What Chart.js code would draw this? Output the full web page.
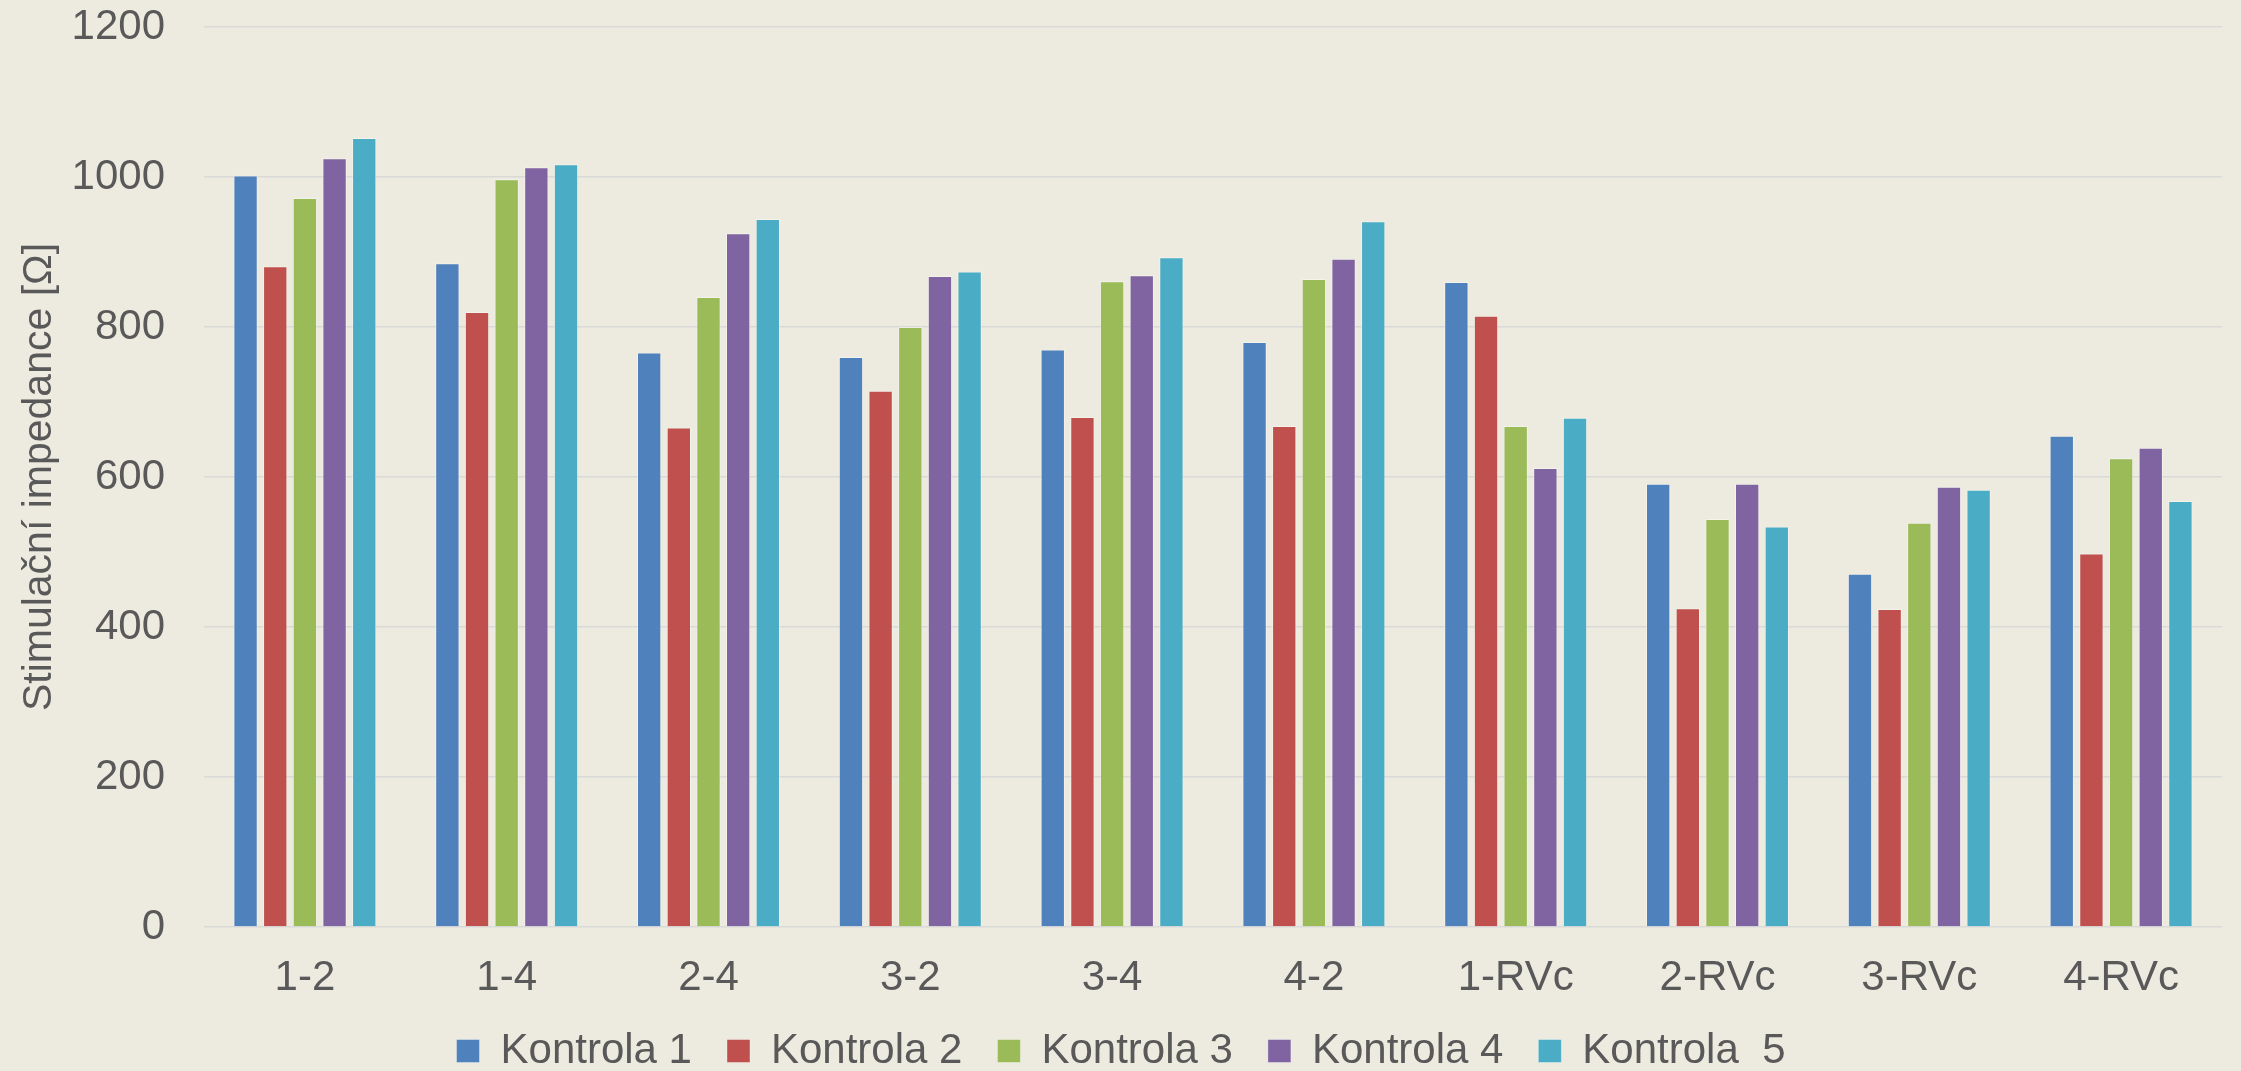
<!DOCTYPE html>
<html>
<head>
<meta charset="utf-8">
<title>Stimulační impedance</title>
<script src="https://cdn.jsdelivr.net/npm/chart.js@4/dist/chart.umd.min.js"></script>
<style>
  html, body { margin: 0; padding: 0; background: #EDEBE0; overflow: hidden; }
  #wrap { width: 2241px; height: 1071px; }
</style>
</head>
<body>
<div id="wrap"><canvas id="chart" width="2241" height="1071"></canvas></div>
<script>
// Electrode pairs (pacing vectors)
const categories = ['1-2', '1-4', '2-4', '3-2', '3-4', '4-2', '1-RVc', '2-RVc', '3-RVc', '4-RVc'];

// Stimulation impedance [Ω] per follow-up visit
const kontrola1 = [1002, 885, 766, 760, 770, 780, 860, 591, 471, 655];
const kontrola2 = [881, 820, 666, 715, 680, 668, 815, 425, 424, 498];
const kontrola3 = [972, 997, 840, 800, 861, 864, 668, 544, 539, 625];
const kontrola4 = [1025, 1013, 925, 868, 869, 891, 612, 591, 587, 639];
const kontrola5 = [1052, 1017, 944, 874, 893, 941, 679, 534, 583, 568];

const seriesNames = ['Kontrola 1', 'Kontrola 2', 'Kontrola 3', 'Kontrola 4', 'Kontrola  5'];
const seriesColors = ['#4F81BD', '#C0504D', '#9BBB59', '#8064A2', '#4BACC6'];
const seriesValues = [kontrola1, kontrola2, kontrola3, kontrola4, kontrola5];

const yTicks = [0, 200, 400, 600, 800, 1000, 1200];
const yTitle = 'Stimulační impedance [Ω]';

const textColor = '#595959';
const fontFamily = '"Liberation Sans", Arial, sans-serif';

const datasets = seriesValues.map((vals, i) => ({
  label: seriesNames[i],
  data: vals,
  backgroundColor: seriesColors[i],
  borderColor: 'rgba(255,255,255,0.35)',
  borderWidth: 1,
  categoryPercentage: 0.735,
  barPercentage: 0.82
}));

// nudge the centred legend row slightly to the right
const legendNudge = {
  id: 'legendNudge',
  afterLayout(chart) {
    if (chart.legend) {
      chart.legend.left += 10;
      chart.legend.right += 10;
    }
  }
};

new Chart(document.getElementById('chart'), {
  type: 'bar',
  data: { labels: categories, datasets },
  plugins: [legendNudge],
  options: {
    responsive: false,
    animation: false,
    layout: { padding: { left: 0, right: 19, top: 27, bottom: -11 } },
    plugins: {
      tooltip: { enabled: false },
      legend: {
        position: 'bottom',
        labels: {
          color: textColor,
          font: { family: fontFamily, size: 42 },
          boxWidth: 23,
          boxHeight: 23,
          padding: 35
        }
      }
    },
    scales: {
      x: {
        grid: { display: false, drawTicks: false },
        border: { display: false },
        ticks: {
          color: textColor,
          font: { family: fontFamily, size: 42 },
          padding: 26,
          maxRotation: 0
        },
        afterFit: (scale) => { scale.height = 68; }
      },
      y: {
        min: 0,
        max: 1200,
        afterBuildTicks: (scale) => { scale.ticks = yTicks.map(v => ({ value: v })); },
        grid: { color: '#D9D9D7', lineWidth: 1.5, drawTicks: false },
        border: { display: false },
        ticks: {
          color: textColor,
          font: { family: fontFamily, size: 42 },
          padding: 39,
          callback: (value) => String(value)
        },
        title: {
          display: true,
          text: yTitle,
          color: textColor,
          font: { family: fontFamily, size: 41 },
          padding: { top: 15, bottom: 0 }
        },
        afterFit: (scale) => {
          scale.width = 204;
          scale.paddingTop = 0;
          scale.paddingBottom = 0;
        }
      }
    }
  }
});
</script>
</body>
</html>
